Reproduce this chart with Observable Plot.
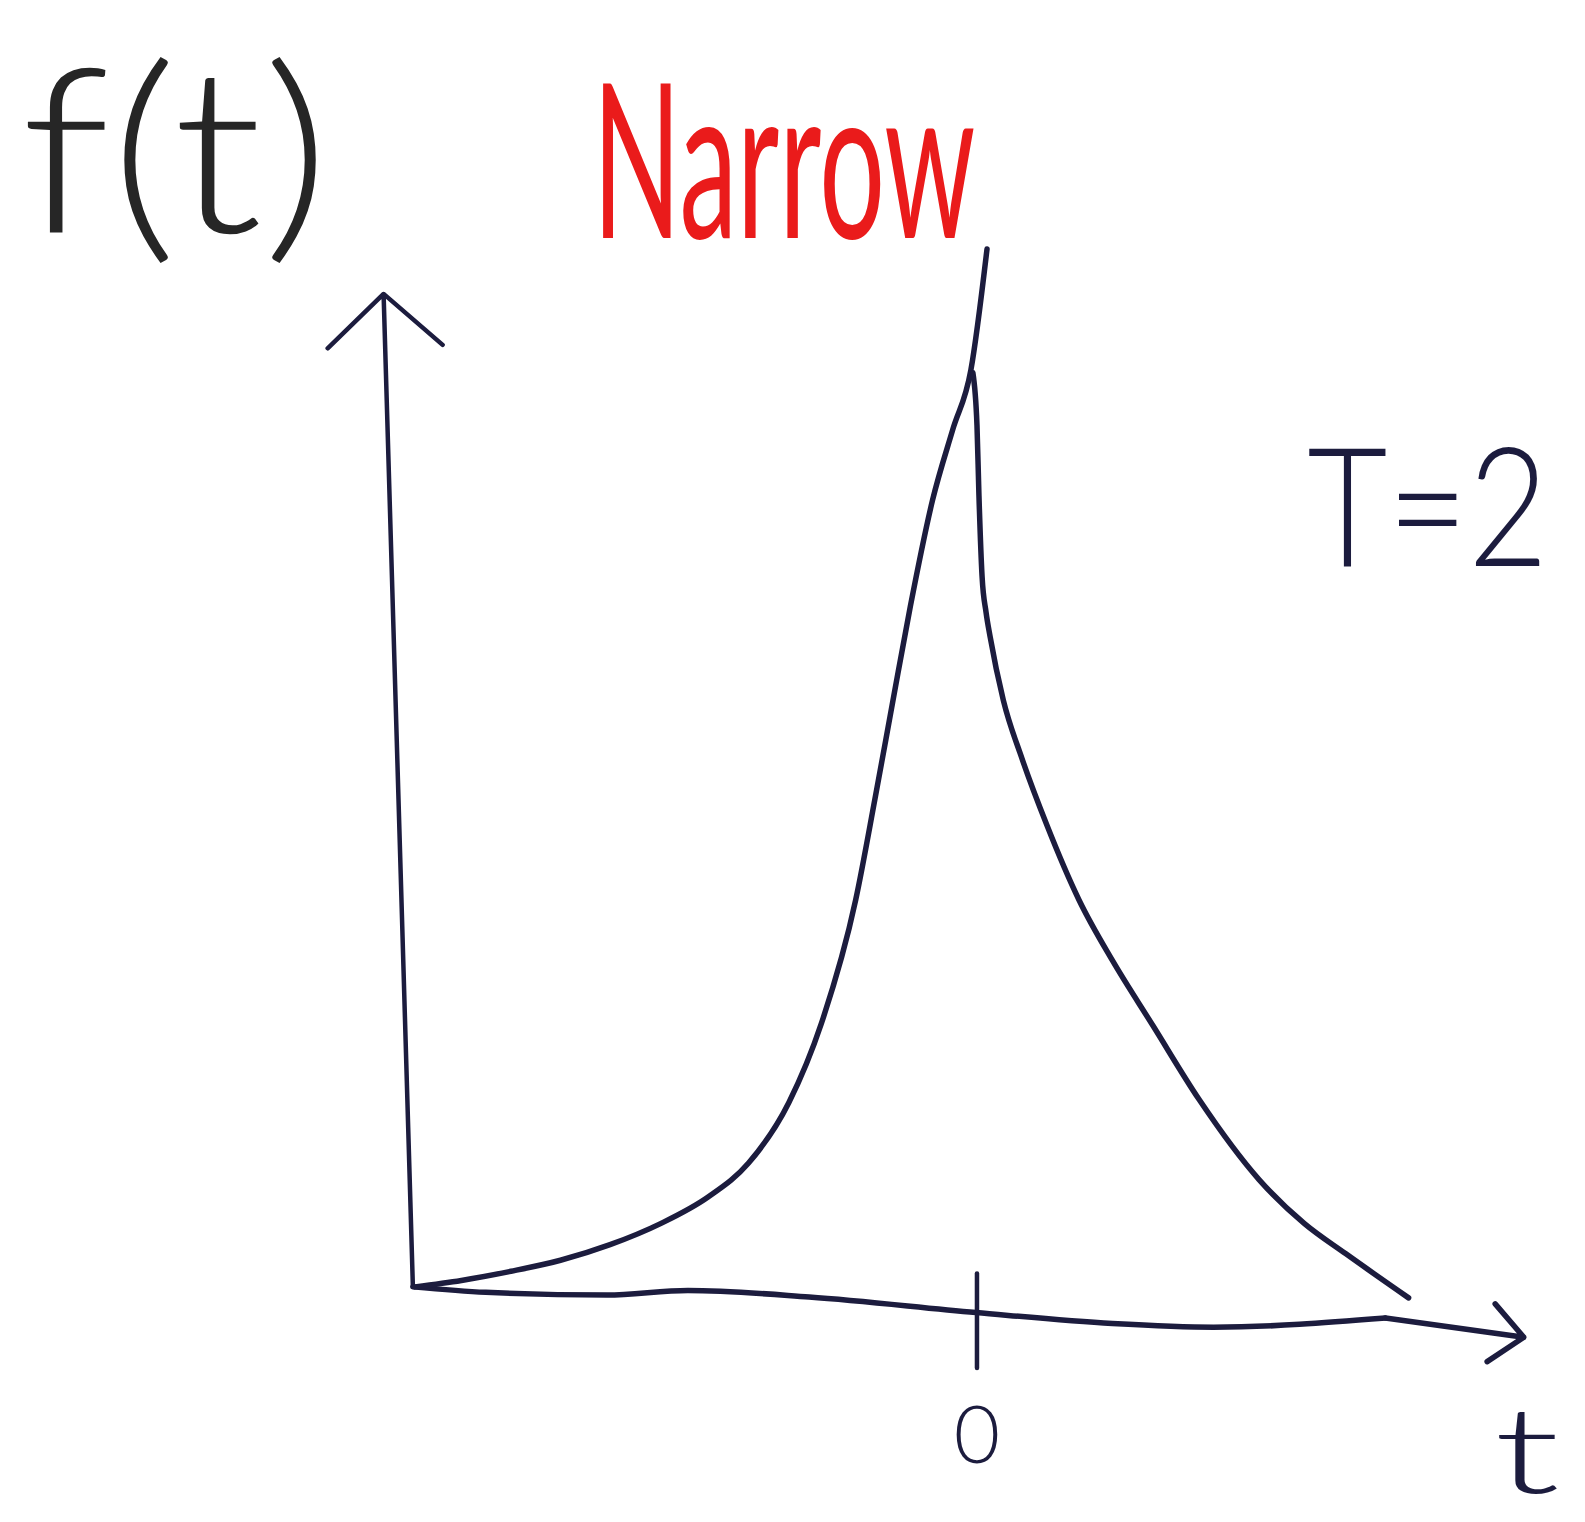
<!DOCTYPE html>
<html>
<head>
<meta charset="utf-8">
<script src="https://cdn.jsdelivr.net/npm/d3@7"></script>
<script src="https://cdn.jsdelivr.net/npm/@observablehq/plot@0.6"></script>
<style>
  html, body { margin: 0; padding: 0; background: #ffffff; }
  #chart svg { display: block; }
</style>
</head>
<body>
<div id="chart"></div>
<script>
// Rising branch of the pulse, f(t) climbing to its peak at t = 0
const riseT = [-3.971, -3.643, -3.293, -2.943, -2.593, -2.236, -1.900, -1.614, -1.329, -1.100,
               -0.857, -0.721, -0.593, -0.471, -0.314, -0.171, -0.043, 0.071];
const riseF = [-0.003, 0.004, 0.014, 0.026, 0.043, 0.066, 0.095, 0.132, 0.198, 0.284,
               0.419, 0.529, 0.637, 0.739, 0.855, 0.932, 0.997, 1.129];

// Decaying branch after the peak
const decayT = [-0.029, 0.000, 0.014, 0.036, 0.064, 0.093, 0.186, 0.314, 0.493,
                0.721, 0.957, 1.243, 1.571, 1.993, 2.314, 2.607, 3.050];
const decayF = [0.994, 0.937, 0.860, 0.772, 0.733, 0.706, 0.637, 0.575, 0.501,
                0.419, 0.353, 0.282, 0.201, 0.114, 0.066, 0.033, -0.015];

// Hand-drawn time axis (slightly wavy), from the origin corner to the arrow tip
const timeAxisT = [-3.986, -3.471, -2.614, -2.043, -1.186, -0.007, 0.957, 1.671, 2.886, 3.864];
const timeAxisF = [-0.003, -0.009, -0.012, -0.007, -0.014, -0.031, -0.043, -0.047, -0.037, -0.058];

// Vertical f(t) axis, origin corner to arrow tip
const valueAxisT = [-3.986, -4.193];
const valueAxisF = [-0.003, 1.080];

// Tick on the time axis
const tickValues = [0];
const tickLabels = ["0"];
const tickSpan = [0.011, -0.092];

// Text annotations
const labelNames = ["f(t)", "Narrow", "T=2", "t"];

const rise = riseT.map((t, i) => ({t, f: riseF[i]}));
const decay = decayT.map((t, i) => ({t, f: decayF[i]}));
const n = timeAxisT.length;
// the shaft up to the last bend; the final stretch is drawn by the arrow
const timeAxis = timeAxisT.slice(0, n - 1).map((t, i) => ({t, f: timeAxisF[i]}));
const ink = "#1c1c3e";

const annotations = [
  {text: labelNames[0], t: -5.664, f: 1.147, size: 230, weight: 300, color: "#262626"},
  {text: labelNames[1], t: -1.364, f: 1.141, size: 215, weight: 400, color: "#ea1b1b"},
  {text: labelNames[2], t: 3.186, f: 0.783, size: 165, weight: 300, color: ink},
  {text: labelNames[3], t: 3.886, f: -0.228, size: 120, weight: 300, color: ink}
];
// Horizontal stretch per text, giving the tall narrow pen lettering
const stretch = {"f(t)": 1.14, "Narrow": 0.54, "T=2": 0.84, "t": 1.6, "0": 1};

const svg = Plot.plot({
  width: 1585,
  height: 1522,
  margin: 0,
  x: {domain: [-6.9, 4.3], axis: null},
  y: {domain: [-0.26, 1.40], axis: null},
  style: {background: "#ffffff", overflow: "visible"},
  marks: [
    // vertical axis with its open arrowhead
    Plot.arrow([0], {
      x1: valueAxisT[0], y1: valueAxisF[0], x2: valueAxisT[1], y2: valueAxisF[1],
      stroke: ink, strokeWidth: 4.5, headAngle: 95, headLength: 26, strokeLinecap: "round"
    }),
    // wavy time axis
    Plot.line(timeAxis, {x: "t", y: "f", curve: "monotone-x", stroke: ink, strokeWidth: 5.5,
      strokeLinecap: "round", strokeLinejoin: "round"}),
    // last stretch of the time axis with its arrowhead
    Plot.arrow([0], {
      x1: timeAxisT[n - 2], y1: timeAxisF[n - 2], x2: timeAxisT[n - 1], y2: timeAxisF[n - 1],
      stroke: ink, strokeWidth: 5.5, headAngle: 83, headLength: 12, strokeLinecap: "round"
    }),
    // tick at t = 0
    Plot.ruleX(tickValues, {x: d => d, y1: tickSpan[0], y2: tickSpan[1], stroke: ink, strokeWidth: 4.5,
      strokeLinecap: "round"}),
    Plot.text(tickValues, {x: d => d, y: -0.195, text: (d, i) => tickLabels[i], lineAnchor: "bottom",
      fontSize: 80, fontFamily: "Lato", fontWeight: 300, fill: ink}),
    // the pulse
    Plot.line(rise, {x: "t", y: "f", curve: "monotone-x", stroke: ink, strokeWidth: 5.5,
      strokeLinecap: "round", strokeLinejoin: "round"}),
    Plot.line(decay, {x: "t", y: "f", curve: "monotone-x", stroke: ink, strokeWidth: 5.5,
      strokeLinecap: "round", strokeLinejoin: "round"}),
    // annotations
    ...annotations.map(a => Plot.text([a], {
      x: "t", y: "f", text: "text", lineAnchor: "bottom", textAnchor: "middle",
      fontSize: a.size, fontFamily: "Lato", fontWeight: a.weight, fill: a.color
    }))
  ]
});

d3.select(svg).selectAll("text").each(function () {
  const sx = stretch[this.textContent];
  if (sx == null || sx === 1) return;
  const t = this.getAttribute("transform") || "";
  this.setAttribute("transform", `${t} scale(${sx},1)`);
});

document.getElementById("chart").appendChild(svg);
</script>
</body>
</html>
